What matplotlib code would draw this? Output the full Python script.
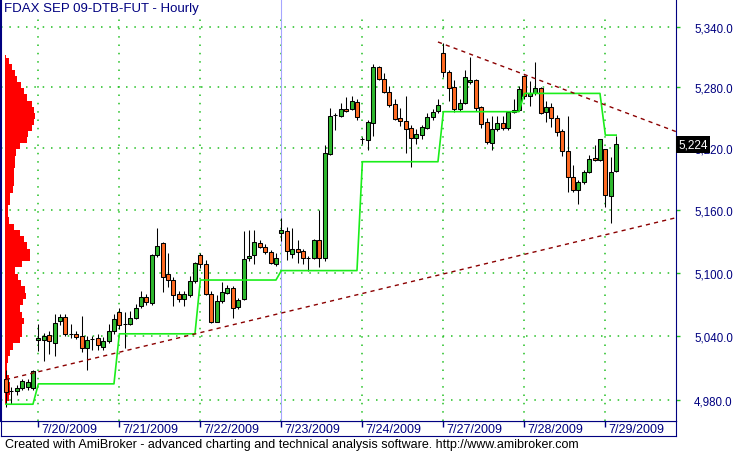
import numpy as np
import matplotlib
matplotlib.use('Agg')
import matplotlib.pyplot as plt
import matplotlib.transforms as mtransforms
from matplotlib.ticker import FixedLocator, FuncFormatter, NullLocator

plt.rcParams['font.family'] = ['Liberation Sans', 'DejaVu Sans']
plt.rcParams['lines.scale_dashes'] = False

# FDAX SEP 09, hourly bars 7/17 .. 7/29
opens = [5000, 4988, 4988, 4991, 4992, 4991,
         5036, 5036, 5041, 5033, 5054, 5058, 5042, 5042, 5040, 5029, 5037, 5038, 5030, 5035, 5045,
         5063, 5051, 5051, 5057, 5068, 5077, 5071, 5117, 5128, 5099, 5093, 5080, 5075, 5079, 5092,
         5117, 5108, 5080, 5053, 5073, 5081, 5085, 5067, 5075, 5114, 5117, 5128, 5125, 5120, 5108,
         5138, 5140, 5118, 5123, 5121, 5114, 5114, 5131, 5114, 5215, 5253, 5252, 5259, 5259, 5266,
         5229, 5228, 5245, 5300, 5288, 5275, 5264, 5250, 5247, 5240, 5230, 5233, 5240, 5251, 5257,
         5314, 5295, 5280, 5259, 5265, 5285, 5287, 5261, 5246, 5225, 5239, 5245, 5240, 5256, 5258,
         5291, 5271, 5274, 5279, 5256, 5261, 5250, 5237, 5217, 5192, 5180, 5187, 5197, 5211, 5209,
         5219, 5174, 5198]
highs = [5008, 4992, 4994, 5000, 5000, 5008,
         5051, 5043, 5045, 5061, 5061, 5061, 5051, 5045, 5059, 5040, 5040, 5042, 5039, 5051, 5061,
         5066, 5063, 5064, 5070, 5083, 5080, 5118, 5143, 5129, 5119, 5096, 5083, 5083, 5097, 5110,
         5119, 5112, 5083, 5079, 5091, 5088, 5087, 5076, 5140, 5141, 5141, 5131, 5127, 5122, 5119,
         5152, 5144, 5143, 5131, 5123, 5116, 5132, 5160, 5223, 5260, 5255, 5265, 5270, 5271, 5268,
         5231, 5248, 5303, 5301, 5294, 5281, 5268, 5260, 5271, 5243, 5239, 5243, 5255, 5259, 5268,
         5324, 5297, 5287, 5268, 5297, 5310, 5288, 5262, 5250, 5252, 5252, 5252, 5257, 5268, 5281,
         5292, 5286, 5305, 5280, 5267, 5265, 5253, 5239, 5252, 5204, 5189, 5199, 5214, 5223, 5229,
         5219, 5212, 5232]
lows = [4973, 4976, 4985, 4989, 4989, 4989,
        5026, 5016, 5023, 5021, 5050, 5040, 5038, 5037, 5025, 5008, 5027, 5027, 5027, 5033, 5042,
        5047, 5029, 5050, 5056, 5066, 5069, 5069, 5115, 5082, 5086, 5068, 5072, 5068, 5077, 5090,
        5104, 5079, 5052, 5053, 5071, 5080, 5057, 5065, 5074, 5111, 5108, 5124, 5118, 5108, 5106,
        5130, 5112, 5114, 5109, 5108, 5102, 5113, 5105, 5111, 5214, 5238, 5251, 5256, 5258, 5248,
        5224, 5218, 5232, 5287, 5274, 5261, 5248, 5242, 5216, 5202, 5224, 5229, 5239, 5248, 5255,
        5290, 5267, 5256, 5257, 5264, 5283, 5257, 5240, 5224, 5218, 5237, 5238, 5238, 5255, 5257,
        5268, 5262, 5272, 5254, 5246, 5241, 5232, 5213, 5178, 5178, 5166, 5185, 5196, 5208, 5208,
        5163, 5148, 5197]
closes = [4987, 4988, 4991, 4998, 4997, 5007,
          5038, 5040, 5035, 5052, 5058, 5042, 5042, 5039, 5029, 5036, 5037, 5031, 5035, 5045, 5056,
          5050, 5051, 5057, 5066, 5077, 5072, 5117, 5126, 5096, 5093, 5079, 5075, 5080, 5092, 5109,
          5108, 5080, 5053, 5073, 5082, 5085, 5066, 5074, 5113, 5116, 5129, 5125, 5120, 5109, 5114,
          5141, 5121, 5123, 5120, 5114, 5114, 5131, 5114, 5216, 5252, 5253, 5259, 5257, 5267, 5251,
          5229, 5246, 5300, 5288, 5275, 5263, 5249, 5247, 5239, 5230, 5234, 5241, 5251, 5256, 5263,
          5295, 5279, 5259, 5265, 5290, 5287, 5260, 5244, 5226, 5239, 5245, 5240, 5256, 5258, 5278,
          5271, 5274, 5279, 5255, 5261, 5250, 5236, 5217, 5192, 5180, 5187, 5197, 5210, 5209, 5229,
          5175, 5197, 5224]

# sessions (first one, 7/17, has no label on the axis)
day_labels = ['', '7/20/2009', '7/21/2009', '7/22/2009', '7/23/2009',
              '7/24/2009', '7/27/2009', '7/28/2009', '7/29/2009']
bars_per_day = [6, 15, 15, 15, 15, 15, 15, 15, 3]

# green stop line, one level per session
stop_levels = [4976, 4995, 5042, 5093, 5102, 5207, 5256, 5274, 5233]

# hand drawn trend lines (bar number, price)
trend_lo_x = [0, 124.3]
trend_lo_y = [4999, 5153]
trend_hi_x = [80, 124.3]
trend_hi_y = [5325, 5236]

# volume at price
profile_prices = [5312, 5306, 5300, 5294, 5288, 5282, 5276, 5270, 5264, 5258,
                  5252, 5246, 5240, 5234, 5228, 5222, 5216, 5210, 5204, 5198,
                  5192, 5186, 5180, 5174, 5168, 5162, 5156, 5150, 5144, 5138,
                  5132, 5126, 5120, 5114, 5108, 5102, 5096, 5090, 5084, 5078,
                  5072, 5066, 5060, 5054, 5048, 5042, 5036, 5030, 5024, 5018,
                  5012, 5006, 5000, 4994, 4988, 4982, 4976]
profile_volume = [1, 4, 7, 10, 12, 15, 18, 21, 26, 28,
                  29, 28, 26, 22, 21, 14, 11, 10, 10, 9,
                  9, 9, 8, 5, 5, 3, 3, 4, 9, 14,
                  18, 21, 24, 24, 16, 10, 13, 15, 19, 20,
                  17, 14, 16, 18, 16, 16, 14, 8, 5, 3,
                  2, 2, 4, 5, 5, 4, 2]

price_ticks = [4980, 5040, 5100, 5160, 5220, 5280, 5340]

navy = '#000080'
grid_c = '#22c022'
up_c = '#2eb82e'
down_c = '#ff6a21'

opens = np.array(opens)
closes = np.array(closes)
x = np.arange(len(opens))
day_start = np.cumsum([0] + bars_per_day[:-1])
stop_line = np.repeat(stop_levels, bars_per_day)

W, H = 737, 452
fig = plt.figure(figsize=(W / 100, H / 100), dpi=100)

# date strip under the chart
ax2 = fig.add_axes([1 / W, 1 - 437 / H, 675 / W, 15 / H])
ax2.set_xticks([])
ax2.set_yticks([])
for s in ax2.spines.values():
    s.set_color(navy)
ax2.patch.set_visible(False)

ax = fig.add_axes([1 / W, 1 - 422 / H, 675 / W, 422 / H])
ax.set_xlim(-0.92, 124.08)
ax.set_yscale('log')
ax.set_ylim(4960.4, 5368)

# grid
for p in price_ticks:
    ax.axhline(p, color=grid_c, lw=1.1, ls=(0, (1.1, 4.9)), zorder=0)
for s in day_start[1:]:
    ax.axvline(s, ymax=402 / 422, color=grid_c, lw=1.1, ls=(0, (1.1, 4.9)), zorder=0)
ax.axvline(day_start[4], color='#a6a6ff', lw=0.8, zorder=0.5)

# volume profile
prof_w = np.array(profile_volume) / max(profile_volume) * 5.4
ax.fill_betweenx(profile_prices, -0.1, -0.1 + prof_w, step='mid',
                 color='#ff0000', lw=0, zorder=1)

# candles
up = closes >= opens
ax.vlines(x, lows, highs, color='black', lw=0.75, zorder=3)
ax.bar(x, closes - opens, bottom=opens, width=0.72,
       color=np.where(up, up_c, down_c), edgecolor='black', lw=0.75, zorder=4)

ax.plot(x, stop_line, color='#1aee1a', lw=1.2, zorder=5)
ax.plot(trend_lo_x, trend_lo_y, color='#8b0000', lw=1.0, ls=(0, (3, 3)), zorder=5)
ax.plot(trend_hi_x, trend_hi_y, color='#8b0000', lw=1.0, ls=(0, (3, 3)), zorder=5)

# axes look
ax.yaxis.set_major_locator(FixedLocator(price_ticks))
ax.yaxis.set_minor_locator(NullLocator())
ax.yaxis.set_major_formatter(FuncFormatter(lambda v, pos: f'{v:,.1f}'))
ax.yaxis.tick_right()
ax.tick_params(axis='y', which='both', direction='out', length=3, width=1,
               color=grid_c, labelcolor=navy, labelsize=8.3, pad=10)
ax.set_xticks(day_start[1:])
ax.tick_params(axis='x', direction='out', length=4.5, width=1, color=navy,
               labelbottom=False)
ax.spines['top'].set_visible(False)
for k in ['left', 'right', 'bottom']:
    ax.spines[k].set_color(navy)
ax.spines['left'].set_linewidth(1.5)

for s, lab in zip(day_start[1:], day_labels[1:]):
    ax.text(s + 0.6, -0.004, lab, transform=ax.get_xaxis_transform(),
            ha='left', va='top', color=navy, fontsize=9)

tr = mtransforms.blended_transform_factory(ax.transAxes, ax.transData)
ax.text(1.0 + 2 / 675, closes[-1], f'{closes[-1]:,}', transform=tr, ha='left',
        va='center', color='white', fontsize=8.5, clip_on=False, zorder=10,
        bbox=dict(facecolor='black', edgecolor='none', pad=1.8))

ax.text(3 / 675, 1 - 3 / 422, 'FDAX SEP 09-DTB-FUT - Hourly', transform=ax.transAxes,
        ha='left', va='top', color=navy, fontsize=9.5)

fig.text(5 / W, 1 - 445 / H,
         'Created with AmiBroker - advanced charting and technical analysis software. '
         'http://www.amibroker.com',
         ha='left', va='center', color='black', fontsize=9)

fig.savefig('out.png', dpi=100)
